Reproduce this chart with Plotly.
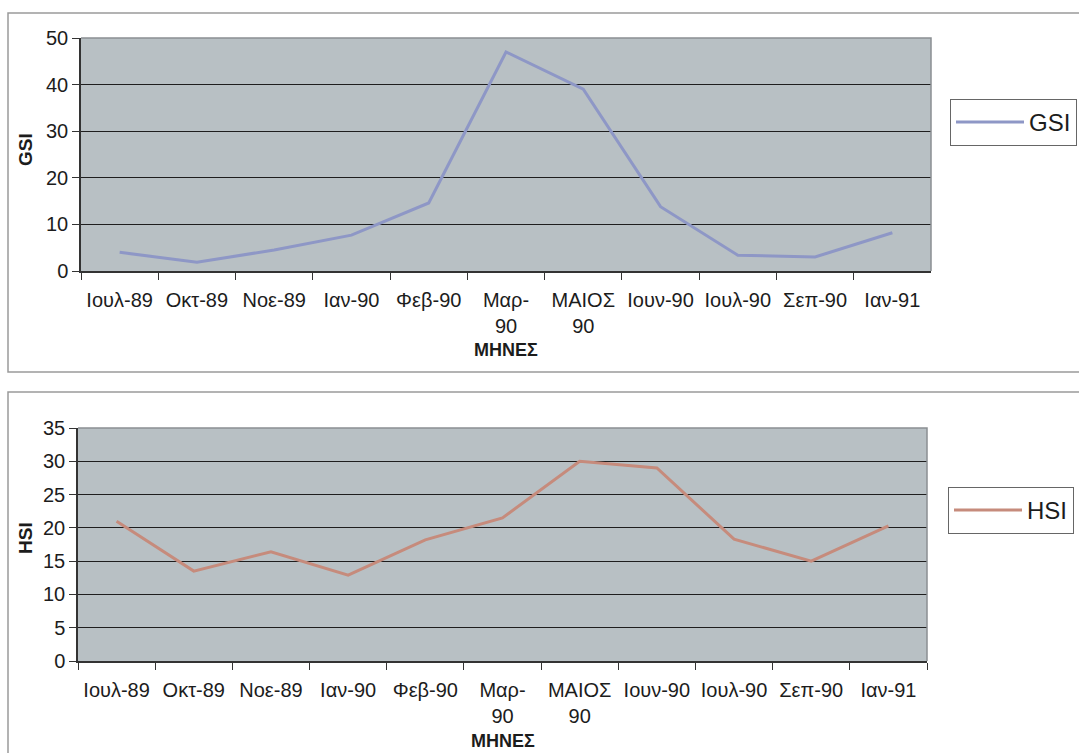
import plotly.graph_objects as go

# Sampling months (category axis) and their wrapped tick labels
months = ["Ιουλ-89", "Οκτ-89", "Νοε-89", "Ιαν-90", "Φεβ-90", "Μαρ-90",
          "ΜΑΙΟΣ 90", "Ιουν-90", "Ιουλ-90", "Σεπ-90", "Ιαν-91"]
month_labels = ["Ιουλ-89", "Οκτ-89", "Νοε-89", "Ιαν-90", "Φεβ-90", "Μαρ-<br>90",
                "ΜΑΙΟΣ<br>90", "Ιουν-90", "Ιουλ-90", "Σεπ-90", "Ιαν-91"]

# Gonadosomatic and hepatosomatic index per month
gsi = [4.0, 1.9, 4.5, 7.7, 14.6, 47.0, 39.0, 13.8, 3.4, 3.0, 8.2]
hsi = [21.0, 13.5, 16.4, 12.9, 18.2, 21.5, 30.0, 29.0, 18.3, 15.0, 20.3]

gsi_ticks = [0, 10, 20, 30, 40, 50]
hsi_ticks = [0, 5, 10, 15, 20, 25, 30, 35]

W, H = 1079, 753
FONT = "Liberation Sans, Arial, sans-serif"
TXT = "#1c1c1c"
PLOT_BG = "#b8c0c4"


def px_x(p):
    return p / W


def px_y(p):
    return 1 - p / H


# plot-area rectangles in pixels: (left, top, right, bottom)
top_box = (81, 38, 931, 271)
bot_box = (78, 428, 927, 661)

fig = go.Figure()

fig.add_trace(go.Scatter(
    x=months, y=gsi, mode="lines", name="GSI",
    line=dict(color="#8e97c6", width=3),
    xaxis="x", yaxis="y", legend="legend",
))
fig.add_trace(go.Scatter(
    x=months, y=hsi, mode="lines", name="HSI",
    line=dict(color="#c68b7c", width=3),
    xaxis="x2", yaxis="y2", legend="legend2",
))

xaxis_common = dict(
    type="category", tickvals=months, ticktext=month_labels,
    range=[-0.5, len(months) - 0.5],
    tickson="boundaries", ticks="outside", ticklen=7, tickcolor="#333",
    showline=True, linecolor="#333", linewidth=1.5, showgrid=False,
    tickfont=dict(family=FONT, size=20, color=TXT),
    ticklabelstandoff=10, automargin=False, fixedrange=True,
)
yaxis_common = dict(
    ticks="outside", ticklen=7, tickcolor="#333",
    showline=True, linecolor="#333", linewidth=1.5,
    showgrid=True, gridcolor="#1e1e1e", gridwidth=1, zeroline=False,
    tickfont=dict(family=FONT, size=20, color=TXT),
    automargin=False, fixedrange=True,
)

legend_common = dict(
    xanchor="left", yanchor="top",
    bgcolor="white", bordercolor="#666", borderwidth=1,
    font=dict(family=FONT, size=24, color=TXT),
    itemwidth=68, tracegroupgap=0,
)

fig.update_layout(
    width=W, height=H, autosize=False,
    margin=dict(l=0, r=0, t=0, b=0, autoexpand=False),
    paper_bgcolor="white", plot_bgcolor=PLOT_BG,
    xaxis=dict(domain=[px_x(top_box[0]), px_x(top_box[2])], anchor="y",
               **xaxis_common),
    yaxis=dict(domain=[px_y(top_box[3]), px_y(top_box[1])], anchor="x",
               range=[0, 50], tickvals=gsi_ticks, **yaxis_common),
    xaxis2=dict(domain=[px_x(bot_box[0]), px_x(bot_box[2])], anchor="y2",
                **xaxis_common),
    yaxis2=dict(domain=[px_y(bot_box[3]), px_y(bot_box[1])], anchor="x2",
                range=[0, 35], tickvals=hsi_ticks, **yaxis_common),
    legend=dict(x=px_x(950), y=px_y(99), **legend_common),
    legend2=dict(x=px_x(948), y=px_y(487), **legend_common),
    showlegend=True,
)

# chart frames and the light upper/right borders of each plot area
shapes = [
    dict(type="rect", xref="paper", yref="paper",
         x0=px_x(8), x1=1.02, y0=px_y(372), y1=px_y(13),
         line=dict(color="#9a9a9a", width=1.5), layer="below"),
    dict(type="rect", xref="paper", yref="paper",
         x0=px_x(8), x1=1.02, y0=-0.02, y1=px_y(392),
         line=dict(color="#9a9a9a", width=1.5), layer="below"),
]
for (l, t, r, b) in (top_box, bot_box):
    shapes.append(dict(type="path", xref="paper", yref="paper",
                       path=f"M {px_x(l)},{px_y(t)} L {px_x(r)},{px_y(t)} L {px_x(r)},{px_y(b)}",
                       line=dict(color="#8a8f92", width=1.5)))
fig.update_layout(shapes=shapes)

annotations = [
    dict(text="<b>ΜΗΝΕΣ</b>", x=px_x((top_box[0] + top_box[2]) / 2), y=px_y(350),
         xref="paper", yref="paper", showarrow=False, yanchor="middle",
         font=dict(family=FONT, size=18, color=TXT)),
    dict(text="<b>ΜΗΝΕΣ</b>", x=px_x((bot_box[0] + bot_box[2]) / 2), y=px_y(741),
         xref="paper", yref="paper", showarrow=False, yanchor="middle",
         font=dict(family=FONT, size=18, color=TXT)),
    dict(text="<b>GSI</b>", x=px_x(25), y=px_y(150), textangle=-90,
         xref="paper", yref="paper", showarrow=False,
         xanchor="center", yanchor="middle",
         font=dict(family=FONT, size=19, color=TXT)),
    dict(text="<b>HSI</b>", x=px_x(25), y=px_y(538), textangle=-90,
         xref="paper", yref="paper", showarrow=False,
         xanchor="center", yanchor="middle",
         font=dict(family=FONT, size=19, color=TXT)),
]
fig.update_layout(annotations=annotations)

fig.write_html("out.html")
